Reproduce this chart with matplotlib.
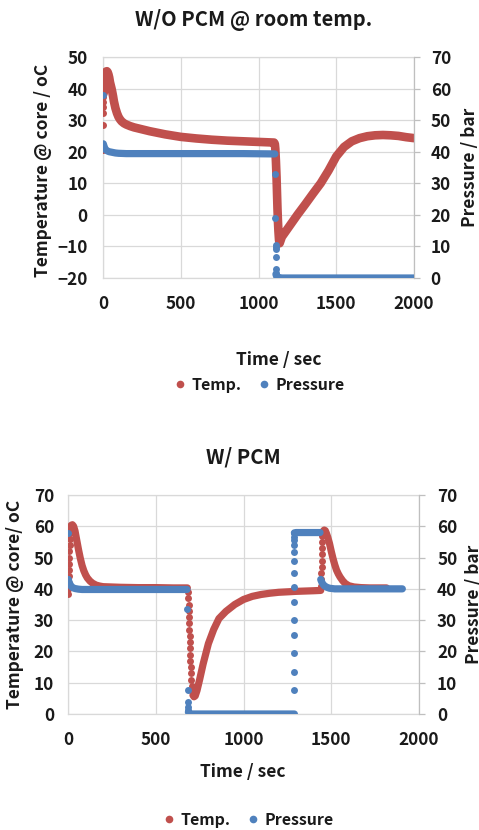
import matplotlib
matplotlib.use("Agg")
import matplotlib.pyplot as plt
from matplotlib.lines import Line2D

plt.rcParams['font.family'] = ['Noto Sans CJK KR', 'DejaVu Sans']
plt.rcParams['font.weight'] = 'bold'
plt.rcParams['axes.labelweight'] = 'bold'

RED = '#C0504D'
BLUE = '#4F81BD'
GRID = '#D9D9D9'
AXIS = '#BFBFBF'
TXT = '#1a1a1a'

# ---- W/O PCM @ room temp. ----
# temperature, isolated dots at start
a_temp_dot_t = [0, 0, 1, 1, 2, 2]
a_temp_dot_v = [20.5, 28.5, 32.2, 34.3, 35.9, 37.4]
# temperature, dense band
a_temp_t = [4, 8, 10, 12, 15, 20, 25, 30, 35, 40, 45, 50, 55, 60, 65, 70, 80, 90,
            100, 110, 120, 135, 150, 175, 200, 250, 300, 350, 400, 450, 500, 600,
            700, 800, 900, 1000, 1050, 1100, 1105, 1108, 1112, 1116, 1119, 1122,
            1125, 1128, 1132, 1136, 1150, 1200, 1250, 1300, 1350, 1400, 1450,
            1500, 1550, 1600, 1650, 1700, 1750, 1800, 1850, 1900, 1950, 2000]
a_temp_v = [38.5, 40, 42, 43.5, 44.8, 45.4, 45.5, 45.2, 44.5, 43.5, 42, 41, 40,
            38.8, 37.5, 36, 33.8, 32.2, 31, 30.2, 29.6, 29.0, 28.6, 28.1, 27.7,
            27.1, 26.5, 26, 25.5, 25.1, 24.7, 24.2, 23.8, 23.5, 23.3, 23.1, 23,
            22.9, 22.5, 21, 17, 12, 7, 2, -2, -5, -8, -9, -7, -3.5, 0, 3.3, 6.7,
            10, 14, 18.5, 21.5, 23.3, 24.3, 24.9, 25.2, 25.3, 25.2, 25, 24.6, 24.3]
# pressure
a_pres_dot_t = [0, 1108, 1108, 1110, 1110, 1110, 1111, 1112, 1113]
a_pres_dot_v = [58, 33, 19, 10.5, 9.8, 9.2, 6.5, 2.8, 1.6]
a_pres_t = [2, 5, 10, 15, 20, 30, 40, 60, 80, 100, 150, 300, 600, 900, 1105]
a_pres_v = [42.5, 42, 41.3, 40.8, 40.5, 40.2, 40, 39.8, 39.6, 39.5, 39.4, 39.4,
            39.4, 39.4, 39.3]
a_pres0_t = [1112, 1116, 1125, 1150, 2000]
a_pres0_v = [1.2, 0.6, 0.2, 0, 0]

# ---- W/ PCM ----
b_temp_dot_t = [0, 2, 3, 4, 5, 6, 7, 8, 9, 10, 11,
                684, 686, 687, 688, 689, 690, 692, 693, 694, 695, 697, 698, 699,
                700, 702, 704, 707, 710,
                1442, 1443, 1444, 1445, 1446, 1447, 1448, 1449, 1450]
b_temp_dot_v = [38.5, 40, 42, 44, 46, 48, 50, 52, 54, 56, 58,
                39, 37, 35, 33, 31, 29, 27, 25, 23, 21, 19, 17, 15,
                13, 11, 9, 7.5, 6.5,
                41, 43, 45, 47, 49, 51, 53, 55, 57]
b_temp1_t = [12, 18, 25, 32, 40, 50, 60, 70, 80, 90, 100, 110, 125, 140, 160, 180,
             200, 250, 300, 400, 500, 600, 680]
b_temp1_v = [59.5, 60.3, 60.5, 60, 58.5, 55.5, 52.5, 49.8, 47.5, 45.8, 44.5, 43.5,
             42.5, 41.8, 41.2, 40.9, 40.7, 40.6, 40.5, 40.4, 40.4, 40.3, 40.3]
b_temp2_t = [712, 718, 725, 735, 750, 770, 800, 830, 860, 900, 950, 1000, 1050,
             1100, 1150, 1200, 1300, 1400, 1440]
b_temp2_v = [6, 5.5, 5.8, 7.5, 11, 16, 22.5, 27, 30.5, 32.8, 35, 36.6, 37.6, 38.2,
             38.6, 38.9, 39.2, 39.4, 39.5]
b_temp3_t = [1450, 1455, 1460, 1466, 1472, 1480, 1490, 1500, 1510, 1520, 1530,
             1540, 1550, 1565, 1580, 1600, 1630, 1670, 1720, 1770, 1815]
b_temp3_v = [57.5, 58.5, 58.8, 58.6, 57.8, 56.5, 54.5, 52, 49.7, 47.7, 46, 44.8,
             43.8, 42.6, 41.7, 41, 40.6, 40.4, 40.3, 40.3, 40.3]
b_pres_dot_t = [0, 680, 682, 684, 685, 686,
                1287, 1287, 1287, 1287, 1287, 1287, 1287, 1287, 1287, 1287, 1287,
                1288, 1288, 1289]
b_pres_dot_v = [58, 33.5, 7.7, 3.9, 2.2, 1.2,
                7.7, 13.5, 19.4, 25.2, 30, 35.9, 40.5, 45.2, 48.9, 51.9, 54,
                55.6, 56.7, 57.7]
b_pres1_t = [2, 5, 10, 15, 20, 30, 40, 50, 60, 80, 100, 150, 200, 300, 500, 678]
b_pres1_v = [43, 42.3, 41.6, 41.1, 40.7, 40.3, 40.1, 40, 39.9, 39.8, 39.8, 39.8,
             39.8, 39.8, 39.8, 39.8]
b_pres2_t = [686, 690, 700, 1290]
b_pres2_v = [0.6, 0.3, 0, 0]
b_pres3_t = [1290, 1300, 1350, 1400, 1436]
b_pres3_v = [57.9, 58, 58, 58, 58]
b_pres4_t = [1440, 1445, 1450, 1460, 1475, 1490, 1520, 1600, 1700, 1800, 1905]
b_pres4_v = [43, 42.3, 41.7, 41, 40.5, 40.2, 40, 40, 40, 40, 40]

DOT_MS = 5.0
FS = 12.3


def band(ax, t, v, c, lw=5.2):
    ax.plot(t, v, color=c, lw=lw, solid_capstyle='round',
            solid_joinstyle='round', zorder=3)


def dots(ax, t, v, c):
    ax.plot(t, v, 'o', color=c, ms=DOT_MS, mec='none', zorder=3)


def style(ax, ax2, lylim, lticks, lpad, rpad):
    ax.set_xlim(0, 2000)
    ax.set_xticks([0, 500, 1000, 1500, 2000])
    ax.set_ylim(*lylim)
    ax.set_yticks(lticks)
    ax.grid(True, color=GRID, lw=0.9)
    ax.set_axisbelow(True)
    for s in ['left', 'top', 'bottom']:
        ax.spines[s].set_color(GRID)
        ax.spines[s].set_linewidth(0.9)
    ax.spines['right'].set_visible(False)
    ax.tick_params(axis='y', length=0, pad=lpad, labelsize=FS, colors=TXT)
    ax.tick_params(axis='x', length=0, pad=12, labelsize=FS, colors=TXT)
    ax2.set_ylim(0, 70)
    ax2.set_yticks(range(0, 80, 10))
    for s in ['left', 'top', 'bottom']:
        ax2.spines[s].set_visible(False)
    ax2.spines['right'].set_color(AXIS)
    ax2.spines['right'].set_linewidth(0.9)
    ax2.tick_params(axis='y', length=4, width=0.9, color=AXIS, direction='out',
                    pad=rpad, labelsize=FS, labelcolor=TXT)


fig = plt.figure(figsize=(4.79, 8.30), dpi=100)

# top chart
ax1 = fig.add_axes([103 / 479, 1 - 278 / 830, 311 / 479, 221 / 830])
ax1r = ax1.twinx()
style(ax1, ax1r, (-20, 50), range(-20, 60, 10), 11, 8)
dots(ax1, a_temp_dot_t, a_temp_dot_v, RED)
band(ax1, a_temp_t, a_temp_v, RED, lw=6.2)
band(ax1r, a_pres_t, a_pres_v, BLUE)
band(ax1r, a_pres0_t, a_pres0_v, BLUE)
dots(ax1r, a_pres_dot_t, a_pres_dot_v, BLUE)
ax1.set_xlabel('Time / sec', fontsize=12.5, color=TXT)
ax1.xaxis.set_label_coords((279 - 103) / 311, (278 - 360) / 221)
ax1.xaxis.label.set_va('center')
ax1.set_ylabel('Temperature @ core / oC', fontsize=12.5, color=TXT)
ax1.yaxis.set_label_coords((43 - 103) / 311, (278 - 170) / 221)
ax1.yaxis.label.set_va('center')
fig.text(470 / 479, 1 - 167 / 830, 'Pressure / bar', rotation=90, ha='center',
         va='center', fontsize=12.5, color=TXT)
fig.text(254 / 479, 1 - 20 / 830, 'W/O PCM @ room temp.', ha='center',
         va='center', fontsize=14.5, color=TXT)

# bottom chart
ax2 = fig.add_axes([68 / 479, 1 - 714 / 830, 351 / 479, 219 / 830])
ax2r = ax2.twinx()
style(ax2, ax2r, (0, 70), range(0, 80, 10), 10, 9)
dots(ax2, b_temp_dot_t, b_temp_dot_v, RED)
band(ax2, b_temp1_t, b_temp1_v, RED)
band(ax2, b_temp2_t, b_temp2_v, RED)
band(ax2, b_temp3_t, b_temp3_v, RED)
band(ax2r, b_pres1_t, b_pres1_v, BLUE)
band(ax2r, b_pres2_t, b_pres2_v, BLUE)
band(ax2r, b_pres3_t, b_pres3_v, BLUE)
band(ax2r, b_pres4_t, b_pres4_v, BLUE)
dots(ax2r, b_pres_dot_t, b_pres_dot_v, BLUE)
ax2.set_xlabel('Time / sec', fontsize=12.5, color=TXT)
ax2.xaxis.set_label_coords((243 - 68) / 351, (714 - 772) / 219)
ax2.xaxis.label.set_va('center')
ax2.set_ylabel('Temperature @ core/ oC', fontsize=12.5, color=TXT)
ax2.yaxis.set_label_coords((15 - 68) / 351, (714 - 604) / 219)
ax2.yaxis.label.set_va('center')
fig.text(474 / 479, 1 - 604 / 830, 'Pressure / bar', rotation=90, ha='center',
         va='center', fontsize=12.5, color=TXT)
fig.text(243 / 479, 1 - 457 / 830, 'W/ PCM', ha='center', va='center',
         fontsize=14.5, color=TXT)

# legends
handles = [Line2D([], [], ls='none', marker='o', ms=DOT_MS + 0.5, color=RED,
                  mec='none', label='Temp.'),
           Line2D([], [], ls='none', marker='o', ms=DOT_MS + 0.5, color=BLUE,
                  mec='none', label='Pressure')]
for cx, cy in [(260, 385), (249, 820)]:
    fig.legend(handles=handles, loc='center', bbox_to_anchor=(cx / 479, 1 - cy / 830),
               ncol=2, frameon=False, fontsize=11.5, handlelength=0.6,
               handletextpad=0.4, columnspacing=1.1, labelcolor=TXT)

fig.savefig('out.png', dpi=100)
